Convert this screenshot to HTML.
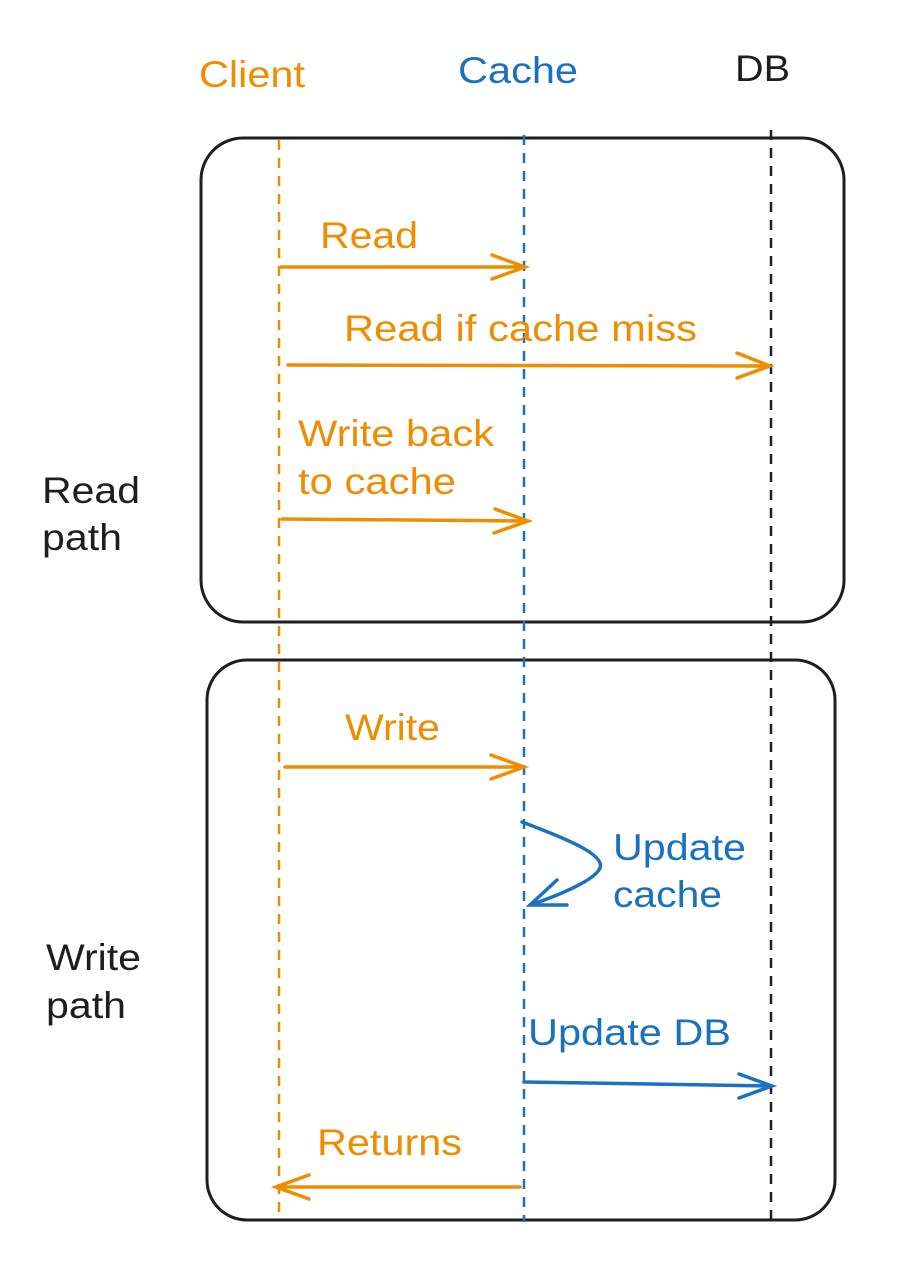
<!DOCTYPE html>
<html><head><style>html,body{margin:0;padding:0;background:#fff}</style></head>
<body>
<svg width="897" height="1269" viewBox="0 0 897 1269" xmlns="http://www.w3.org/2000/svg" font-family="Liberation Sans, sans-serif" font-size="37">
<rect width="897" height="1269" fill="#fff"/>
<rect x="201" y="138" width="643" height="484" rx="42" fill="none" stroke="#1e1e1e" stroke-width="3"/>
<rect x="207" y="660" width="628" height="560" rx="40" fill="none" stroke="#1e1e1e" stroke-width="3"/>
<line x1="279" y1="140" x2="279" y2="1212" stroke="#f08c00" stroke-width="2.5" stroke-dasharray="10 8"/>
<line x1="524" y1="135" x2="524" y2="1222" stroke="#1971c2" stroke-width="2.5" stroke-dasharray="10 8"/>
<line x1="771" y1="130" x2="771" y2="1222" stroke="#1e1e1e" stroke-width="2.5" stroke-dasharray="10 8"/>
<g lengthAdjust="spacingAndGlyphs">
<text x="199" y="87" fill="#f08c00" textLength="106" lengthAdjust="spacingAndGlyphs">Client</text>
<text x="458" y="83" fill="#1971c2" textLength="120" lengthAdjust="spacingAndGlyphs">Cache</text>
<text x="735" y="81" fill="#1e1e1e" textLength="55" lengthAdjust="spacingAndGlyphs">DB</text>
<text x="42" y="503" fill="#1e1e1e" textLength="98" lengthAdjust="spacingAndGlyphs">Read</text>
<text x="42" y="550" fill="#1e1e1e" textLength="80" lengthAdjust="spacingAndGlyphs">path</text>
<text x="46" y="970" fill="#1e1e1e" textLength="95" lengthAdjust="spacingAndGlyphs">Write</text>
<text x="46" y="1018" fill="#1e1e1e" textLength="80" lengthAdjust="spacingAndGlyphs">path</text>
</g>
<g fill="none" stroke="#f08c00" stroke-width="3.5" stroke-linecap="round">
<path d="M281 267 L525 267 M492 255 L525 267 L492 279"/>
<path d="M288 365 L770 366 M737 353 L770 366 L737 378"/>
<path d="M282 519 L528 521 M495 509 L528 521 L494 533"/>
<path d="M285 767 L524 767 M491 755 L524 767 L491 779"/>
<path d="M520 1187 L276 1187 M309 1175 L276 1187 L309 1199"/>
</g>
<g fill="#f08c00">
<text x="320" y="248" textLength="98" lengthAdjust="spacingAndGlyphs">Read</text>
<text x="344" y="341" textLength="353" lengthAdjust="spacingAndGlyphs">Read if cache miss</text>
<text x="298" y="446" textLength="196" lengthAdjust="spacingAndGlyphs">Write back</text>
<text x="298" y="494" textLength="158" lengthAdjust="spacingAndGlyphs">to cache</text>
<text x="345" y="740" textLength="95" lengthAdjust="spacingAndGlyphs">Write</text>
<text x="317" y="1155" textLength="145" lengthAdjust="spacingAndGlyphs">Returns</text>
</g>
<g fill="none" stroke="#1971c2" stroke-width="3.5" stroke-linecap="round">
<path d="M522 822 C570 840 605 855 600 868 C595 880 560 895 530 905 M557 880 L530 905 L567 905"/>
<path d="M524 1082 L772 1086 M739 1074 L772 1086 L739 1098"/>
</g>
<g fill="#1971c2">
<text x="613" y="860" textLength="133" lengthAdjust="spacingAndGlyphs">Update</text>
<text x="613" y="907" textLength="109" lengthAdjust="spacingAndGlyphs">cache</text>
<text x="528" y="1045" textLength="203" lengthAdjust="spacingAndGlyphs">Update DB</text>
</g>
</svg>
</body></html>
